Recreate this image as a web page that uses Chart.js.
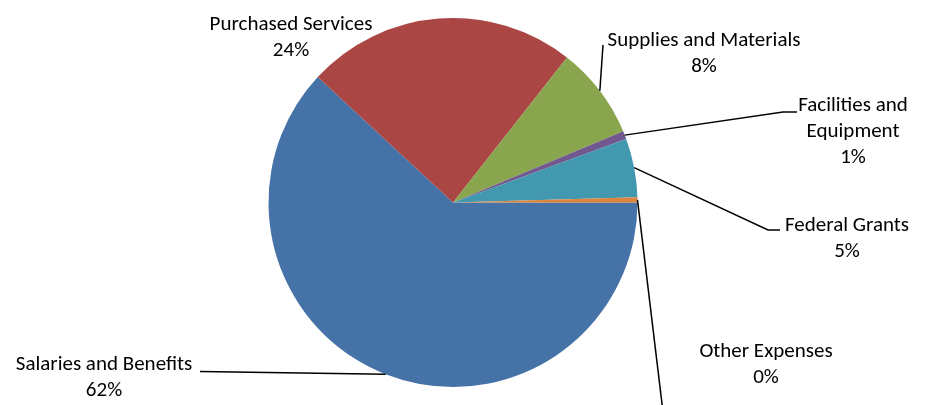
<!DOCTYPE html>
<html>
<head>
<meta charset="utf-8">
<script src="https://cdn.jsdelivr.net/npm/chart.js@4.4.1/dist/chart.umd.min.js"></script>
<style>
  html, body { margin: 0; padding: 0; background: #fff; }
  canvas { display: block; }
</style>
</head>
<body>
<canvas id="pie" width="928" height="405"></canvas>
<script>
// Expense categories and their shares
const categories = ["Salaries and Benefits", "Purchased Services", "Supplies and Materials",
                    "Facilities and Equipment", "Federal Grants", "Other Expenses"];
const shares = [61.9, 23.7, 8.1, 0.7, 5.15, 0.45];
const sliceColors = ["#4572A7", "#AA4643", "#89A54E", "#71588F", "#4198AF", "#DB843D"];

// how each category name is wrapped in its label
const labelLines = [
    ["Salaries and Benefits"],
    ["Purchased Services"],
    ["Supplies and Materials"],
    ["Facilities and", "Equipment"],
    ["Federal Grants"],
    ["Other Expenses"]
];

// label placement: text centre x, first baseline y, leader line points after the slice edge
const labelPlacement = [
    { x: 104, y: 370, leader: [[200, 371.5]] },
    { x: 291, y: 29.5, leader: [] },
    { x: 704, y: 46, leader: [[603, 45]] },
    { x: 853, y: 111, leader: [[783, 112], [797, 112]] },
    { x: 847, y: 230.5, leader: [[768, 230], [780, 230]] },
    { x: 766, y: 356.5, leader: [[663, 412]] }
];

const FONT = "21px Carlito, Calibri, Lato";
const LINE_STEP = 26;

// draws the Excel-style outside labels with leader lines
const outsideLabels = {
    id: "outsideLabels",
    afterDatasetsDraw(chart) {
        const ctx = chart.ctx;
        const arcs = chart.getDatasetMeta(0).data;
        const values = chart.data.datasets[0].data;
        const total = values.reduce((a, b) => a + b, 0);

        ctx.save();
        ctx.strokeStyle = "#000";
        ctx.lineWidth = 1.5;
        arcs.forEach((arc, i) => {
            const place = labelPlacement[i];
            if (!place.leader.length) return;
            const mid = (arc.startAngle + arc.endAngle) / 2;
            ctx.beginPath();
            ctx.moveTo(arc.x + Math.cos(mid) * arc.outerRadius, arc.y + Math.sin(mid) * arc.outerRadius);
            place.leader.forEach(p => ctx.lineTo(p[0], p[1]));
            ctx.stroke();
        });

        ctx.fillStyle = "#000";
        ctx.font = FONT;
        ctx.textAlign = "center";
        ctx.textBaseline = "alphabetic";
        arcs.forEach((arc, i) => {
            const place = labelPlacement[i];
            const lines = labelLines[i].concat([Math.round(values[i] / total * 100) + "%"]);
            lines.forEach((t, k) => ctx.fillText(t, place.x, place.y + k * LINE_STEP));
        });
        ctx.restore();
    }
};

new Chart(document.getElementById("pie"), {
    type: "pie",
    data: {
        labels: categories,
        datasets: [{
            data: shares,
            backgroundColor: sliceColors,
            borderWidth: 0
        }]
    },
    options: {
        responsive: false,
        animation: false,
        rotation: 90,
        layout: { padding: { top: 18, bottom: 18, left: 0, right: 22 } },
        plugins: {
            legend: { display: false },
            tooltip: { enabled: false }
        }
    },
    plugins: [outsideLabels]
});
</script>
</body>
</html>
